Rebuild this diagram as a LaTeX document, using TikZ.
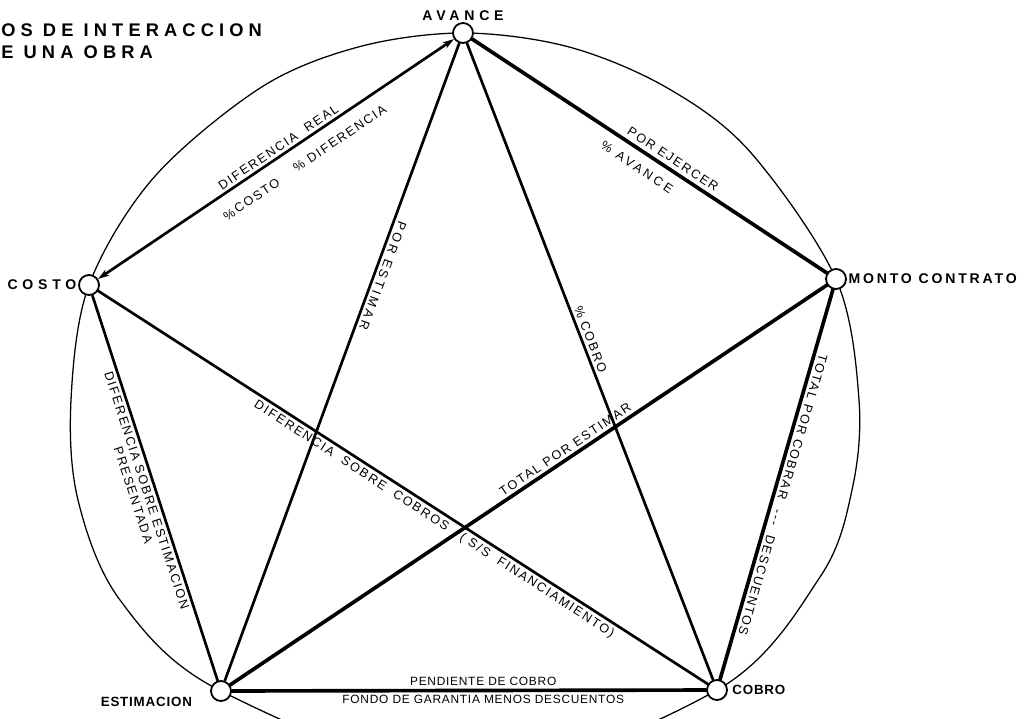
\documentclass[tikz,border=0pt]{standalone}
\usepackage{fontspec}
\setmainfont{Liberation Sans}
\newfontfamily\ttlfont[LetterSpace=28]{Liberation Sans}
\newfontfamily\vfont[LetterSpace=34]{Liberation Sans}
\newfontfamily\mfont[LetterSpace=20]{Liberation Sans}
\newfontfamily\efont[LetterSpace=14]{Liberation Sans}
\newfontfamily\wfont[LetterSpace=24]{Liberation Sans}
\newfontfamily\cfont[LetterSpace=6]{Liberation Sans}
\usetikzlibrary{positioning,arrows.meta}
\tikzset{
  pt/.style={circle,draw,fill=white,line width=1.3pt,minimum size=0.5cm,inner sep=0pt},
  rim/.style={line width=0.9pt},
  thk/.style={line width=2.6pt},
  med/.style={line width=1.9pt},
  vlbl/.style={font=\vfont\bfseries\fontsize{10}{12}\selectfont,inner sep=1pt},
  nlbl/.style={font=\cfont\bfseries\fontsize{9.5}{11}\selectfont,inner sep=1pt},
  elbl/.style={font=\efont\fontsize{9}{10}\selectfont,inner sep=2pt,sloped},
  wlbl/.style={elbl,font=\wfont\fontsize{9}{10}\selectfont},
  clbl/.style={elbl,font=\cfont\fontsize{8.5}{10}\selectfont},
  ttl/.style={font=\ttlfont\bfseries\fontsize{13}{15}\selectfont,inner sep=0pt,anchor=west},
}
\begin{document}
\begin{tikzpicture}[x=0.025cm,y=-0.025cm,line cap=round,line join=round]
  \useasboundingbox (0,0) rectangle (1033,718);
  \node[ttl] (ttlA) at (1,30) {OS DE INTERACCION};
  \node[ttl] (ttlB) at (1,52) {E UNA OBRA};
  \draw[rim] plot[smooth cycle,tension=0.55] coordinates {(89,285) (153.8,177.5) (261.4,87.2)
    (359,46.8) (463,33) (568.4,46.8) (666,87.2) (749.8,151.5) (836,279) (859,400) (852,490)
    (820,577) (717,690) (470,775) (221,691) (120,600) (78,500) (71,400)};
  \node[pt] (av) at (463,33) {};
  \node[pt] (co) at (89,285) {};
  \node[pt] (mo) at (836,279) {};
  \node[pt] (es) at (221,691) {};
  \node[pt] (cb) at (717,690) {};
  \node[vlbl,above=0pt of av] (tAv) {AVANCE};
  \node[vlbl,left=0pt of co] (tCo) {COSTO};
  \node[vlbl,right=0pt of mo,font=\mfont\bfseries\fontsize{10}{12}\selectfont] (tMo) {MONTO CONTRATO};
  \node[nlbl,below left=-2pt and 14pt of es] (tEs) {ESTIMACION};
  \node[nlbl,right=2pt of cb] (tCb) {COBRO};
  \draw[med,{Stealth[length=8pt,width=5pt]}-{Stealth[length=8pt,width=5pt]}] (co) --
    node[elbl,above,pos=.52] {DIFERENCIA\ \ REAL}
    node[elbl,below=8pt,pos=.40] {\%COSTO}
    node[elbl,below=7pt,pos=.65] {\% DIFERENCIA} (av);
  \draw[thk] (av) --
    node[elbl,above=1pt,pos=.55] {POR EJERCER}
    node[wlbl,below=5pt,pos=.49] {\% AVANCE} (mo);
  \draw[med] (av) -- node[wlbl,allow upside down,above,pos=.36] {POR ESTIMAR} (es);
  \draw[med] (av) -- node[elbl,above,pos=.47] {\% COBRO} (cb);
  \draw[med] (co) -- node[elbl,below,pos=.5,align=center]
    {DIFERENCIA SOBRE ESTIMACION\\PRESENTADA} (es);
  \draw[med] (co) -- node[elbl,below,pos=.56]
    {DIFERENCIA\ \ SOBRE\ \ COBROS\ \ \ ( S/S\ \ FINANCIAMIENTO)} (cb);
  \draw[thk] (es) -- node[elbl,above,pos=.57] {TOTAL POR ESTIMAR} (mo);
  \draw[thk] (mo) -- node[elbl,allow upside down,above,pos=.52]
    {TOTAL POR COBRAR\ \ ---\ \ DESCUENTOS} (cb);
  \draw[thk] (es) --
    node[clbl,above,pos=.53] {PENDIENTE DE COBRO}
    node[clbl,below,pos=.53] {FONDO DE GARANTIA MENOS DESCUENTOS} (cb);
\end{tikzpicture}
\end{document}
